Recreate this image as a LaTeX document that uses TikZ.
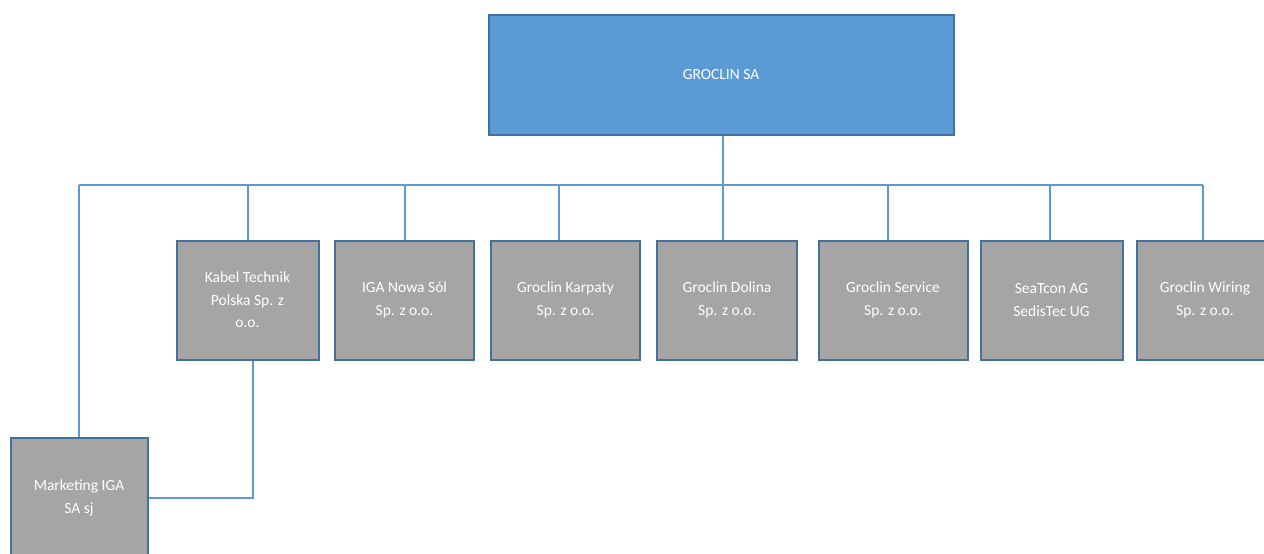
\documentclass[tikz,border=0pt]{standalone}
\usepackage{fontspec}
\setmainfont{Carlito}
\usepackage{tikz}
\usepackage{xcolor}
\usetikzlibrary{positioning}

\definecolor{topblue}{HTML}{5B9BD5}
\definecolor{edgeblue}{HTML}{41719C}
\definecolor{boxgray}{HTML}{A5A5A5}

\tikzset{
    unit/.style={draw=edgeblue, line width=2pt, fill=boxgray, text=white,
        align=center, font=\fontsize{15.5}{22.5}\selectfont,
        minimum height=119pt, inner sep=0pt},
    link/.style={draw=topblue, line width=1.6pt}
}

\begin{document}
\begin{tikzpicture}[x=1pt,y=-1pt]
        \clip (0,0) rectangle (1264,554);
        \fill[white] (0,0) rectangle (1264,554);
        \node[unit, fill=topblue, minimum width=465pt, minimum height=120pt] (groclin) at (721,74.5) {GROCLIN SA};
        \node[unit, minimum width=142pt] (kabel) at (247.5,300) {Kabel Technik\\Polska Sp. z\\o.o.};
        \node[unit, minimum width=139pt] (nowasol) at (404.5,300) {IGA Nowa Sól\\Sp. z o.o.};
        \node[unit, minimum width=149pt] (karpaty) at (565.5,300) {Groclin Karpaty\\Sp. z o.o.};
        \node[unit, minimum width=140pt] (dolina) at (727,300) {Groclin Dolina\\Sp. z o.o.};
        \node[unit, minimum width=149pt] (service) at (893,300) {Groclin Service\\Sp. z o.o.};
        \node[unit, minimum width=142pt] (seatcon) at (1051.5,300) {SeaTcon AG\\SedisTec UG};
        \node[unit, minimum width=136pt] (wiring) at (1205,300) {Groclin Wiring\\Sp. z o.o.};
        \node[unit, minimum width=137pt, minimum height=120pt] (marketing) at (79,498) {Marketing IGA\\SA sj};
        % bus line
        \coordinate (busL) at (79,185);
        \coordinate (busR) at (1203,185);
        \coordinate (corner) at (253,498);
        \draw[link] (groclin.south -| 723,0) -- (723,185);
        \draw[link] (busL) -- (busR);
        \foreach \x/\b in {248/kabel, 405/nowasol, 559/karpaty, 723/dolina, 888/service, 1050/seatcon, 1203/wiring}
            \draw[link] (\x,185) -- (\b.north -| \x,0);
        \draw[link] (busL) -- (marketing.north);
        \draw[link] (kabel.south -| corner) -- (corner) -- (marketing.east |- corner);
    \end{tikzpicture}
\end{document}
